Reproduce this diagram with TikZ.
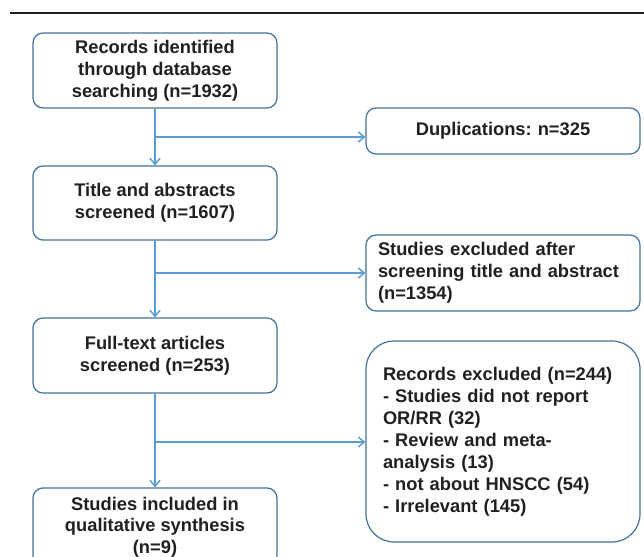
\documentclass[tikz,border=0pt]{standalone}
\usepackage{fontspec}
\setmainfont{Liberation Sans}
\usepackage{xcolor}
\usepackage{tikz}
\usetikzlibrary{arrows.meta, positioning, calc}
\frenchspacing

\definecolor{boxblue}{RGB}{65,113,156}
\definecolor{flowblue}{RGB}{91,155,213}
\definecolor{inkgray}{RGB}{35,31,32}

\begin{document}
\begin{tikzpicture}[x=1pt, y=-1pt,
    leftbox/.style={draw=boxblue, line width=1.2pt, rounded corners=10pt, minimum width=244pt, align=center, text=inkgray, font=\fontsize{18.3}{22}\selectfont\bfseries, inner sep=0pt},
    rightbox/.style={draw=boxblue, line width=1.2pt, rounded corners=10pt, minimum width=274pt, text width=250pt, align=left, text=inkgray, font=\fontsize{18.3}{22}\selectfont\bfseries, inner xsep=12pt, inner ysep=0pt},
    flowarrow/.style={-{Straight Barb[length=6pt, width=10pt]}, draw=flowblue, line width=1.5pt}
]
\useasboundingbox (0,0) rectangle (644,556);
\clip (0,0) rectangle (644,556);

% Top rule
\coordinate (ruleL) at (10,13);
\coordinate (ruleR) at (644,13);
\draw[inkgray, line width=2pt] (ruleL) -- (ruleR);

% Main column
\node[leftbox, minimum height=75pt] (identified) at (155,70.5) {Records identified\\through database\\searching (n=1932)};
\node[leftbox, minimum height=74pt] (screened) at (155,203) {Title and abstracts\\screened (n=1607)};
\node[leftbox, minimum height=75pt] (fulltext) at (155,355.5) {Full-text articles\\screened (n=253)};
\node[leftbox, minimum height=78pt, font=\fontsize{18.3}{21.5}\selectfont\bfseries] (included) at (155,527) {Studies included in\\qualitative synthesis\\(n=9)};

% Side column
\node[rightbox, minimum height=46pt, align=center] (duplicates) at (503,131) {Duplications: n=325};
\node[rightbox, minimum height=76pt] (excludedtitle) at (503,273) {Studies excluded after\\screening title and abstract\\(n=1354)};
\node[rightbox, minimum height=201pt, rounded corners=28pt, inner xsep=17pt, text width=240pt] (excludedfull) at (503,441.5) {Records excluded (n=244)\\- Studies did not report\\OR/RR (32)\\- Review and meta-\\analysis (13)\\- not about HNSCC (54)\\- Irrelevant (145)};

% Branch points
\coordinate (split1) at (155,137);
\coordinate (split2) at (155,273);
\coordinate (split3) at (155,442);

% Arrows
\draw[flowarrow] (identified) -- (screened);
\draw[flowarrow] (screened) -- (fulltext);
\draw[flowarrow] (fulltext) -- (included);
\draw[flowarrow] (split1) -- (split1 -| duplicates.west);
\draw[flowarrow] (split2) -- (split2 -| excludedtitle.west);
\draw[flowarrow] (split3) -- (split3 -| excludedfull.west);

\end{tikzpicture}
\end{document}
